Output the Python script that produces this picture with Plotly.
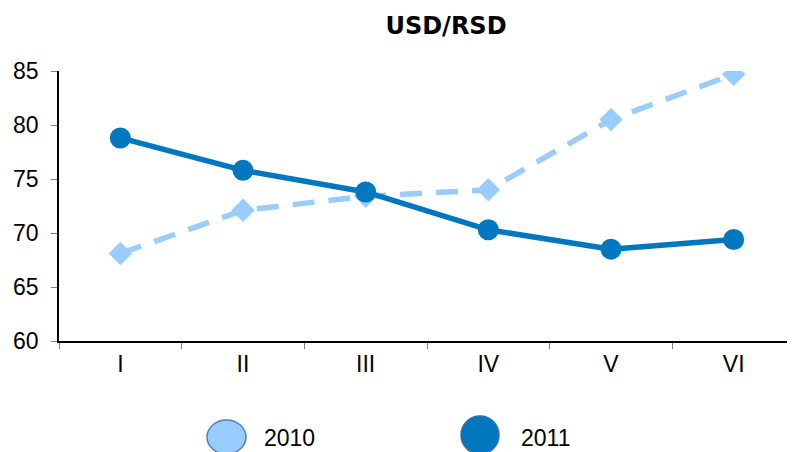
import plotly.graph_objects as go

months = ["I", "II", "III", "IV", "V", "VI"]
usd_2010 = [68.1, 72.1, 73.4, 74.0, 80.5, 84.7]
usd_2011 = [78.8, 75.8, 73.8, 70.3, 68.5, 69.4]
y_ticks = [60, 65, 70, 75, 80, 85]
series_names = ["2010", "2011"]

c2010 = "#99CCFF"
c2011 = "#0077BF"

# page body has an 8px margin; work in window pixels and convert
OFF = 8
W, H = 795 - OFF, 452 - OFF
L, R, T, B = 59 - OFF, 0, 71 - OFF, 452 - 341

fig = go.Figure()
fig.add_trace(go.Scatter(x=months, y=usd_2010, name=series_names[0], mode="lines+markers",
                         line=dict(color=c2010, width=5.5, dash="22px,14px"),
                         marker=dict(symbol="diamond", size=18, color=c2010)))
fig.add_trace(go.Scatter(x=months, y=usd_2011, name=series_names[1], mode="lines+markers",
                         line=dict(color=c2011, width=5.5),
                         marker=dict(symbol="circle", size=21, color=c2011)))

pw, ph = W - L - R, H - T - B

def px(x):
    return (x - OFF - L) / pw

def py(y):
    return (H - B - (y - OFF)) / ph

shapes = [
    dict(type="circle", xref="paper", yref="paper", x0=px(207), x1=px(246), y0=py(454), y1=py(420),
         fillcolor=c2010, line=dict(color="#4F7FBF", width=1.5)),
    dict(type="circle", xref="paper", yref="paper", x0=px(461), x1=px(499), y0=py(454), y1=py(416),
         fillcolor=c2011, line=dict(color="#3A6EA5", width=1.5)),
]
annotations = [
    dict(text=series_names[0], xref="paper", yref="paper", x=px(262), y=py(438), xanchor="left",
         yanchor="middle", showarrow=False, font=dict(size=23, color="black")),
    dict(text=series_names[1], xref="paper", yref="paper", x=px(519), y=py(438), xanchor="left",
         yanchor="middle", showarrow=False, font=dict(size=23, color="black")),
]

fig.update_layout(
    width=W, height=H,
    margin=dict(l=L, r=R, t=T, b=B),
    paper_bgcolor="white", plot_bgcolor="white",
    font=dict(family="Liberation Sans, Arial, sans-serif", color="black"),
    title=dict(text="<b>USD/RSD</b>", x=(446 - OFF) / W, xanchor="center",
               y=1 - (26 - OFF) / H, yanchor="middle",
               font=dict(size=24, color="black", family="DejaVu Sans")),
    showlegend=False,
    shapes=shapes,
    annotations=annotations,
)
fig.update_xaxes(showline=True, linecolor="black", linewidth=1.5, ticks="outside", ticklen=6,
                 tickcolor="#808080", tickson="boundaries", showgrid=False,
                 tickfont=dict(size=23), range=[-0.5, 5.5], ticklabelstandoff=2)
fig.update_yaxes(range=[60, 85], tickvals=y_ticks, showline=True, linecolor="black", linewidth=1.5,
                 ticks="outside", ticklen=6, tickcolor="#808080", showgrid=False, zeroline=False,
                 tickfont=dict(size=23), ticklabelstandoff=8)

fig.write_html("out.html")
